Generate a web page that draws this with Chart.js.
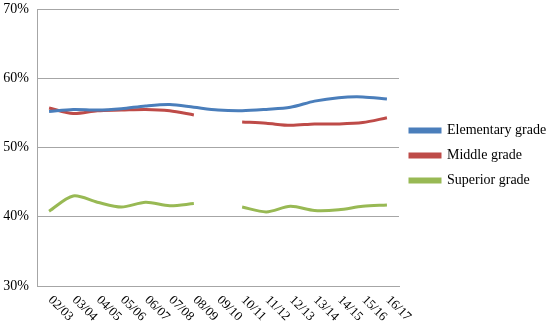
<!DOCTYPE html>
<html>
<head>
<meta charset="utf-8">
<script src="https://cdn.jsdelivr.net/npm/chart.js@4"></script>
<style>
  html, body { margin: 0; padding: 0; background: #fff; }
  #wrap { width: 548px; height: 323px; }
</style>
</head>
<body>
<div id="wrap"><canvas id="chart1"></canvas></div>
<script>
const years = ['02/03', '03/04', '04/05', '05/06', '06/07', '07/08', '08/09', '09/10',
    '10/11', '11/12', '12/13', '13/14', '14/15', '15/16', '16/17'];

const elementary = [55.2, 55.5, 55.4, 55.6, 56.0, 56.2, 55.8, 55.4, 55.3, 55.5, 55.8, 56.7, 57.2, 57.3, 57.0];
const middle = [55.7, 54.9, 55.3, 55.4, 55.5, 55.3, 54.7, null, 53.7, 53.5, 53.2, 53.4, 53.4, 53.6, 54.3];
const superior = [40.8, 43.0, 42.1, 41.4, 42.1, 41.6, 41.9, null, 41.4, 40.7, 41.5, 40.9, 41.0, 41.5, 41.7];

const serif = '"Liberation Serif", "Times New Roman", serif';

// x labels go down to the right, so draw them by hand
const slantedLabels = {
    id: 'slantedLabels',
    afterDraw(chart) {
        const x = chart.scales.x;
        const ctx = chart.ctx;
        ctx.save();
        ctx.font = '13px ' + serif;
        ctx.fillStyle = '#000';
        ctx.textAlign = 'left';
        ctx.textBaseline = 'middle';
        years.forEach((lab, i) => {
            ctx.save();
            ctx.translate(x.getPixelForTick(i) + 1, x.bottom + 4);
            ctx.rotate(Math.PI / 4);
            ctx.fillText(lab, 0, 0);
            ctx.restore();
        });
        ctx.restore();
    }
};

// keep the legend column a fixed width and nudge it down a bit
const legendFix = {
    id: 'legendFix',
    beforeInit(chart) {
        const fit = chart.legend.fit;
        chart.legend.fit = function () {
            fit.call(this);
            this.width = 149;
        };
    },
    afterLayout(chart) {
        chart.legend.top += 4;
        chart.legend.bottom += 4;
    }
};

const ctx1 = document.getElementById('chart1');

new Chart(ctx1, {
    type: 'line',
    data: {
        labels: years,
        datasets: [
            { label: 'Elementary grade', data: elementary, borderColor: '#4A7EBB', backgroundColor: '#4A7EBB' },
            { label: 'Middle grade', data: middle, borderColor: '#BE4B48', backgroundColor: '#BE4B48' },
            { label: 'Superior grade', data: superior, borderColor: '#98B954', backgroundColor: '#98B954' }
        ]
    },
    options: {
        responsive: true,
        maintainAspectRatio: false,
        animation: false,
        spanGaps: false,
        elements: {
            line: { borderWidth: 3, tension: 0.3 },
            point: { radius: 0 }
        },
        layout: {
            padding: { left: 0, right: 0, top: 9, bottom: 29 }
        },
        scales: {
            x: {
                offset: true,
                grid: { display: false },
                border: { color: '#A6A6A6' },
                ticks: { display: false }
            },
            y: {
                min: 30,
                max: 70,
                afterFit(scale) {
                    scale.width = 37;
                    scale.paddingTop = 0;
                    scale.paddingBottom = 0;
                },
                ticks: {
                    stepSize: 10,
                    padding: 8,
                    color: '#000',
                    font: { family: serif, size: 14 },
                    callback: v => v + '%'
                },
                grid: { color: '#A6A6A6', drawTicks: false },
                border: { color: '#A6A6A6' }
            }
        },
        plugins: {
            legend: {
                position: 'right',
                labels: {
                    boxWidth: 30,
                    boxHeight: 3,
                    padding: 11,
                    color: '#000',
                    font: { family: serif, size: 14 }
                }
            },
            tooltip: { enabled: false }
        }
    },
    plugins: [slantedLabels, legendFix]
});
</script>
</body>
</html>
